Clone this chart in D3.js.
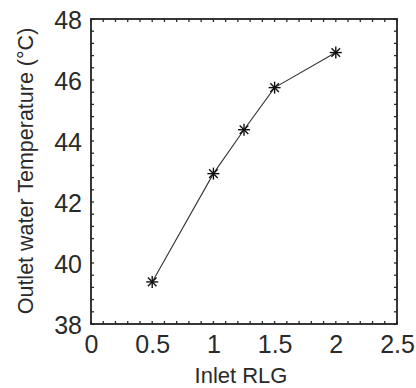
<!DOCTYPE html>
<html><head><meta charset="utf-8">
<script src="https://cdn.jsdelivr.net/npm/d3@7"></script>
<style>body{margin:0;background:#fff;}svg{display:block;}</style>
</head><body>
<svg id="c" width="416" height="388"></svg>
<script>
const xValues = [0.5, 1, 1.25, 1.5, 2];
const yValues = [39.38, 42.93, 44.37, 45.75, 46.9];
const xTicks = [0, 0.5, 1, 1.5, 2, 2.5];
const yTicks = [38, 40, 42, 44, 46, 48];
const xLabel = "Inlet RLG";
const yLabel = "Outlet water Temperature (°C)";

const svg = d3.select("#c");
const L = 91, R = 397, T = 19, B = 324;
const x = d3.scaleLinear().domain([0, 2.5]).range([L, R]);
const y = d3.scaleLinear().domain([38, 48]).range([B, T]);
const font = "'Liberation Sans', Arial, sans-serif";
const col = "#2a2a2a";

// minor ticks
const xMinor = d3.range(0, 2.5001, 0.1);
const yMinor = d3.range(38, 48.001, 0.4);
const g = svg.append("g").attr("stroke", col).attr("stroke-width", 1.3);
xMinor.forEach(v => {
  g.append("line").attr("x1", x(v)).attr("x2", x(v)).attr("y1", B).attr("y2", B - 3);
  g.append("line").attr("x1", x(v)).attr("x2", x(v)).attr("y1", T).attr("y2", T + 3);
});
yMinor.forEach(v => {
  g.append("line").attr("y1", y(v)).attr("y2", y(v)).attr("x1", L).attr("x2", L + 3);
  g.append("line").attr("y1", y(v)).attr("y2", y(v)).attr("x1", R).attr("x2", R - 3);
});

// axes with D3 axis generators for labels
const xAxis = svg.append("g").attr("transform", `translate(0,${B})`)
  .call(d3.axisBottom(x).tickValues(xTicks).tickSize(0).tickPadding(11).tickFormat(d3.format("")));
const yAxis = svg.append("g").attr("transform", `translate(${L},0)`)
  .call(d3.axisLeft(y).tickValues(yTicks).tickSize(0).tickPadding(9).tickFormat(d3.format("")));
[xAxis, yAxis].forEach(a => {
  a.select(".domain").remove();
  a.selectAll("text").attr("font-family", font).attr("font-size", 25).attr("fill", col);
});
yAxis.selectAll("text").attr("dy", "0.36em");

// frame
svg.append("rect").attr("x", L).attr("y", T).attr("width", R - L).attr("height", B - T)
  .attr("fill", "none").attr("stroke", "#222").attr("stroke-width", 1.8);

// line
const line = d3.line().x((d, i) => x(xValues[i])).y(d => y(d));
svg.append("path").datum(yValues).attr("d", line).attr("fill", "none")
  .attr("stroke", "#333").attr("stroke-width", 1.1);

// asterisk markers
const s = 6, dg = 4.3;
yValues.forEach((v, i) => {
  const cx = x(xValues[i]), cy = y(v);
  const m = svg.append("g").attr("stroke", "#111").attr("stroke-width", 1.4);
  m.append("line").attr("x1", cx - s).attr("x2", cx + s).attr("y1", cy).attr("y2", cy);
  m.append("line").attr("x1", cx).attr("x2", cx).attr("y1", cy - s).attr("y2", cy + s);
  m.append("line").attr("x1", cx - dg).attr("x2", cx + dg).attr("y1", cy - dg).attr("y2", cy + dg);
  m.append("line").attr("x1", cx - dg).attr("x2", cx + dg).attr("y1", cy + dg).attr("y2", cy - dg);
});

// axis titles
svg.append("text").attr("x", 241).attr("y", 383).attr("text-anchor", "middle")
  .attr("font-family", font).attr("font-size", 22).attr("fill", col).text(xLabel);
svg.append("text").attr("transform", `translate(33,171) rotate(-90)`)
  .attr("text-anchor", "middle").attr("font-family", font).attr("font-size", 21.5)
  .attr("fill", col).text(yLabel);
</script>
</body></html>
